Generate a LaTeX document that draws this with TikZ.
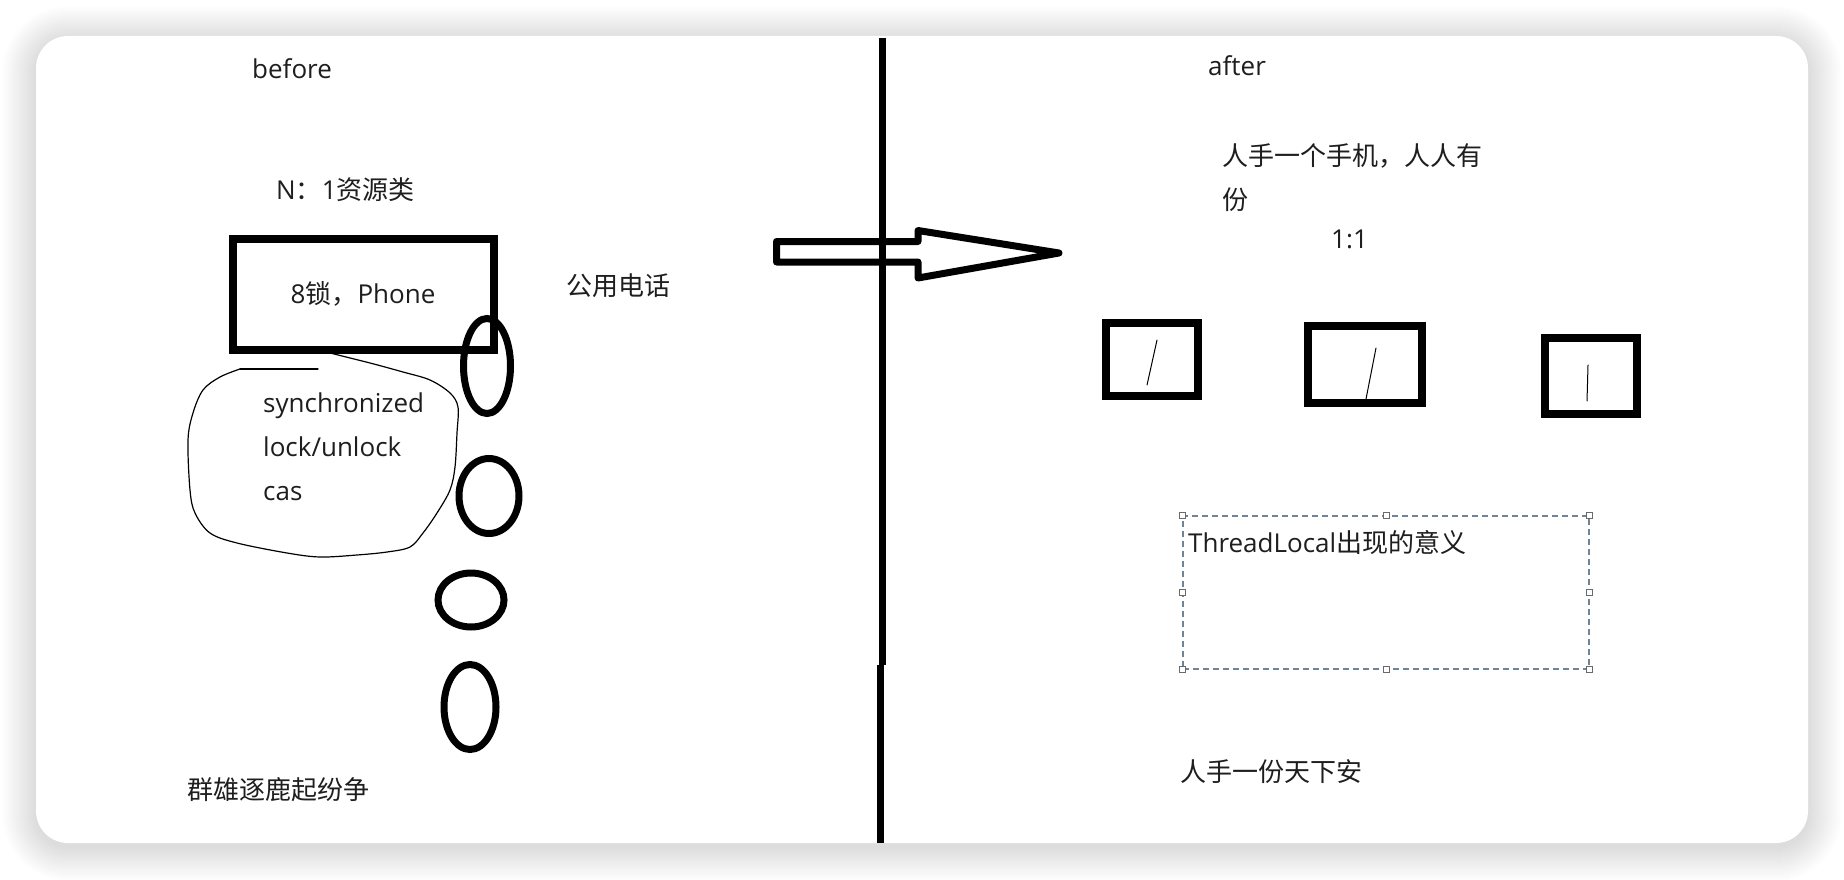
\documentclass[tikz,border=0pt]{standalone}
\usepackage{fontspec}
\setmainfont{Open Sans}
\newfontfamily\cjk{Noto Sans CJK SC}
\usetikzlibrary{shapes.geometric}
\definecolor{txtc}{HTML}{1E1E1E}
\definecolor{selc}{HTML}{6F8597}
\definecolor{handlec}{HTML}{6A6A6A}
\begin{document}
\begin{tikzpicture}[x=1pt,y=-1pt,
 every node/.style={inner sep=0pt},
 lbl/.style={font=\fontsize{26}{31}\selectfont, text=txtc, text height=22pt, text depth=4pt, anchor=west},
 mlbl/.style={font=\fontsize{26}{44}\selectfont, text=txtc, align=left, anchor=north west},
 heavy/.style={draw=black, line width=7pt},
 oval/.style={ellipse, draw=black, line width=7pt},
 box/.style={rectangle, draw=black, line width=8pt},
 handle/.style={rectangle, draw=handlec, fill=white, line width=0.9pt, minimum size=6pt},
 selbox/.style={rectangle, draw=selc, line width=1.1pt, dash pattern=on 6pt off 4pt},
 thinline/.style={draw=black, line width=1.2pt, line cap=round, line join=round}
]
\useasboundingbox (0,0) rectangle (1844,880);
\fill[white] (0,0) rectangle (1844,880);
% soft shadow of the card
\foreach \i in {1,...,34}{
  \pgfmathsetmacro\rr{32+\i}
  \fill[black, opacity=0.005, rounded corners=\rr pt] (36-\i, 36-\i+4) rectangle (1808+\i, 843+\i+4);
}
\node[fill=white, rounded corners=32pt, minimum width=1772pt, minimum height=807pt] (card) at (922,439.5) {};

% ---------- left half ----------
\node[lbl] (before) at (252,70) {before};
\node[lbl] (ratio) at (276,190) {N{\cjk ：}1{\cjk 资源类}};
\node[box, minimum width=261pt, minimum height=111pt, font=\fontsize{26}{31}\selectfont, text=txtc] (phone) at (363,294) {8{\cjk 锁，}Phone};
\node[lbl] (public) at (566,286) {\cjk 公用电话};

\node[oval, minimum width=47pt, minimum height=95pt] (e1) at (487,366) {};
\node[oval, minimum width=60pt, minimum height=75pt] (e2) at (489,496) {};
\node[oval, minimum width=66pt, minimum height=54pt] (e3) at (471,600) {};
\node[oval, minimum width=52pt, minimum height=85pt] (e4) at (470,707) {};

% freehand blob
\draw[thinline] plot[smooth, tension=0.55] coordinates {
 (330,353) (370,363) (403,372) (430,380) (450,393) (458,407) (457,433)
 (455,467) (450,490) (437,513) (423,533) (410,547) (387,552) (357,555)
 (320,557) (287,553) (237,543) (210,533) (195,513) (190,490) (188,440)
 (193,413) (203,390) (220,377) (240,369)};
\draw[thinline] (240,369) -- (318,369);
\node[mlbl] (locks) at (263,393) {synchronized\\lock/unlock\\cas};

\node[lbl] (heroes) at (187,790) {\cjk 群雄逐鹿起纷争};

% ---------- arrow ----------
\draw[heavy, line join=round] (776.5,241.5) -- (918,241.5) -- (918,230.5) -- (1059,253) -- (918,278) -- (918,262) -- (776.5,262) -- cycle;

% ---------- divider ----------
\coordinate (d1) at (882,38);
\coordinate (d2) at (882,665);
\coordinate (d3) at (880,665);
\coordinate (d4) at (880,843);
\draw[heavy] (d1) -- (d2);
\draw[heavy] (d3) -- (d4);

% ---------- right half ----------
\node[lbl] (after) at (1208,67) {after};
\node[mlbl] (phones) at (1222,143) {\cjk 人手一个手机，人人有\\\cjk 份};
\node[lbl] (oneone) at (1331,239) {1:1};

\node[box, minimum width=92pt, minimum height=73pt] (sqA) at (1152,359.5) {};
\node[box, minimum width=114pt, minimum height=77pt] (sqB) at (1365,364.5) {};
\node[box, minimum width=92pt, minimum height=76pt] (sqC) at (1591,376) {};
\draw[line width=1pt, line cap=round] (1157,340) -- (1147,385);
\draw[line width=1pt, line cap=round] (1376,348) -- (1366,399);
\draw[line width=1pt, line cap=round] (1588,365) -- (1587,401);

\node[selbox, minimum width=406pt, minimum height=153pt] (sel) at (1386,592.5) {};
\foreach \a in {north west,north,north east,west,east,south west,south,south east}{
  \node[handle] (h-\a) at (sel.\a) {};
}
\node[lbl] (tl) at (1188,543) {ThreadLocal{\cjk 出现的意义}};

\node[lbl] (peace) at (1180,772) {\cjk 人手一份天下安};
\end{tikzpicture}
\end{document}
